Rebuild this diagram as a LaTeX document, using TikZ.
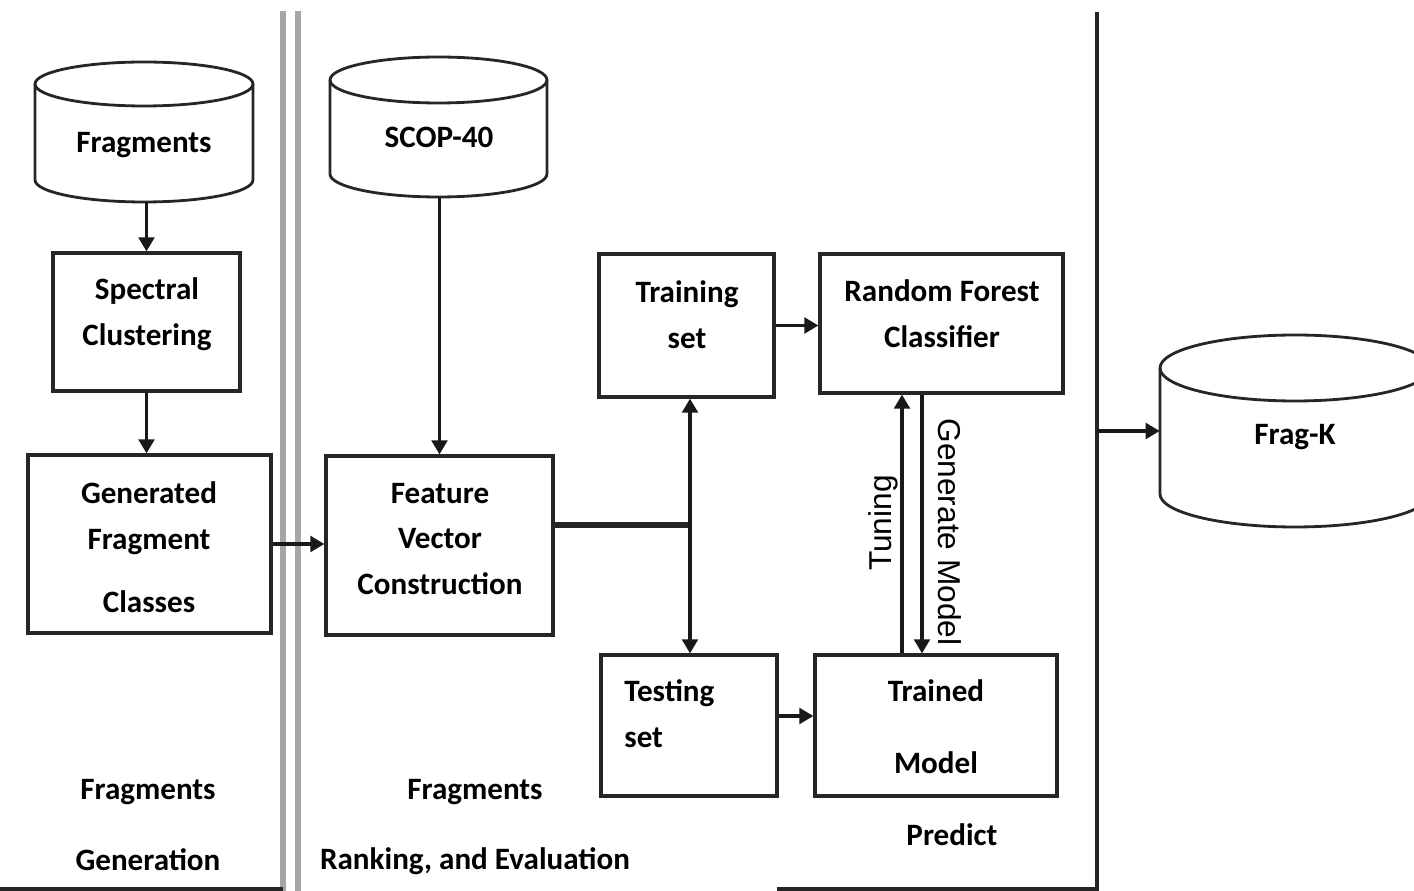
\documentclass[tikz,border=0pt]{standalone}
\usepackage{fontspec}
\setmainfont{Carlito}
\newfontfamily\arialf{Liberation Sans}
\usetikzlibrary{arrows.meta,calc}
\begin{document}
\begin{tikzpicture}[x=0.02cm,y=-0.02cm,
  box/.style={draw=black!85, line width=1.9pt, inner sep=0pt},
  ghost/.style={inner sep=0pt},
  lbl/.style={inner sep=0pt, align=center, font=\fontsize{17.7}{26}\selectfont\bfseries},
  rlbl/.style={inner sep=0pt, font=\arialf\fontsize{18}{22}\selectfont},
  cyl/.style={draw=black!85, line width=1.6pt},
  arr/.style={line width=1.8pt, draw=black!90, -{Triangle[length=8pt,width=9pt]}},
  sep/.style={draw=gray!70, line width=3pt},
  rule/.style={draw=black!85, line width=1.8pt}
]
\useasboundingbox (0,0) rectangle (1414,891);
\clip (0,0) rectangle (1414,891);

% separators
\draw[sep] (283,11) -- (283,891);
\draw[sep] (298,11) -- (298,891);
\coordinate (vtop) at (1097,12);
\coordinate (vbot) at (1097,891);
\draw[rule] (vtop) -- (vbot);
\draw[rule] (0,889) -- (283,889);
\draw[rule] (777,889) -- (1097,889);

% cylinders
\node[ghost, minimum width=4.36cm, minimum height=2.8cm] (frag) at (144,132) {};
\draw[cyl] (144,84) ellipse [x radius=2.18cm, y radius=0.44cm];
\draw[cyl] (35,84) -- (35,180) arc[start angle=180, end angle=360, x radius=2.18cm, y radius=0.44cm] -- (253,84);
\node[lbl] (fragtxt) at (144,145) {Fragments};

\node[ghost, minimum width=4.34cm, minimum height=2.8cm] (scop) at (438.5,127) {};
\draw[cyl] (438.5,80) ellipse [x radius=2.17cm, y radius=0.46cm];
\draw[cyl] (330,80) -- (330,174) arc[start angle=180, end angle=360, x radius=2.17cm, y radius=0.46cm] -- (547,80);
\node[lbl] (scoptxt) at (439,137) {SCOP-40};

\node[ghost, minimum width=5.4cm, minimum height=3.84cm] (fragk) at (1295,431) {};
\draw[cyl] (1295,368) ellipse [x radius=2.7cm, y radius=0.66cm];
\draw[cyl] (1160,368) -- (1160,494) arc[start angle=180, end angle=360, x radius=2.7cm, y radius=0.66cm] -- (1430,368);
\node[lbl] (fragktxt) at (1295,437) {Frag-K};

% boxes
\node[box, minimum width=3.74cm, minimum height=2.76cm] (spec) at (146.5,322) {};
\node[lbl] (spectxt) at (147,314) {Spectral\\Clustering};
\node[box, minimum width=4.86cm, minimum height=3.56cm] (gen) at (149.5,544) {};
\node[lbl] (gentxt) at (149,547) {Generated\\Fragment\\[10pt]Classes};
\node[box, minimum width=4.54cm, minimum height=3.58cm] (feat) at (439.5,545.5) {};
\node[lbl] (feattxt) at (440,539) {Feature\\Vector\\Construction};
\node[box, minimum width=3.5cm, minimum height=2.86cm] (train) at (686.5,325.5) {};
\node[lbl] (traintxt) at (687,315) {Training\\set};
\node[box, minimum width=4.86cm, minimum height=2.78cm] (rf) at (941.5,323.5) {};
\node[lbl] (rftxt) at (942,314) {Random Forest\\Classifier};
\node[box, minimum width=3.52cm, minimum height=2.82cm] (test) at (689,725.5) {};
\node[lbl, anchor=west, align=left] (testtxt) at (624,714) {Testing\\set};
\node[box, minimum width=4.84cm, minimum height=2.82cm] (trained) at (936,725.5) {};
\node[lbl] (trainedtxt) at (936,727) {Trained\\[15pt]Model};

% bottom labels
\node[lbl] (lab1) at (148,825) {Fragments\\[14pt]Generation};
\node[lbl] (lab2) at (475,827) {Fragments\\[14pt]Ranking, and Evaluation};
\node[lbl] (predict) at (952,835) {Predict};

% connectors
\draw[arr] (spec.north |- frag.south) -- (spec.north);
\draw[arr] (spec.south) -- (spec.south |- gen.north);
\draw[arr] (gen.east) -- (feat.west |- gen.east);
\draw[arr] (feat.north |- scop.south) -- (feat.north);
\coordinate (j) at (690,525);
\draw[line width=3pt, draw=black!85] (feat.east |- j) -- (j);
\draw[arr] (j) -- (j |- train.south);
\draw[arr] (j) -- (j |- test.north);
\draw[arr] (train.east) -- (rf.west |- train.east);
\draw[arr] ([yshift=0.19cm]test.east) -- ([yshift=0.19cm]trained.west);
\coordinate (tu) at ($(trained.north)+(-34,0)$);
\coordinate (gm) at ($(trained.north)+(-14,0)$);
\draw[arr] (tu) -- (tu |- rf.south);
\draw[arr] (gm |- rf.south) -- (gm);
\draw[arr] (vtop |- fragk.west) -- (fragk.west);

\node[rlbl, rotate=90] (tuning) at (883,523) {Tuning};
\node[rlbl, rotate=-90] (genmod) at (950,532) {Generate Model};
\end{tikzpicture}
\end{document}
